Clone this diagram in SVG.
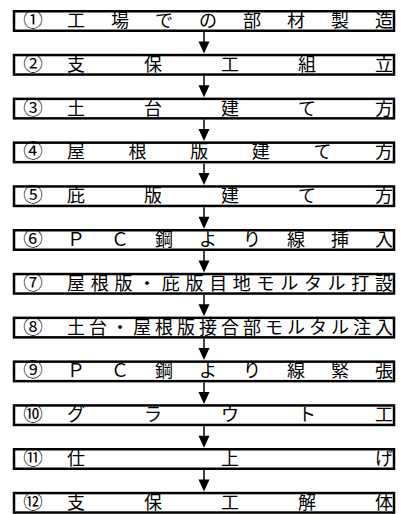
<svg xmlns="http://www.w3.org/2000/svg" width="406" height="514" viewBox="0 0 406 514">
<style>
.box{fill:#fff;stroke:#000;stroke-width:2.5}
.t{font-family:"Noto Sans CJK JP","Noto Sans CJK SC",sans-serif;font-size:18px;fill:#000;text-anchor:middle}
.num{font-size:19.5px}
.ln{stroke:#000;stroke-width:1.5;fill:none}
.ah{fill:#000}
</style>
<rect width="406" height="514" fill="#fff"/>
<g id="connectors">
<line class="ln" x1="204" y1="32" x2="204" y2="43"/><polygon class="ah" points="198.5,41.5 209.5,41.5 204,53.5"/>
<line class="ln" x1="204" y1="75.8" x2="204" y2="86.8"/><polygon class="ah" points="198.5,85.3 209.5,85.3 204,97.3"/>
<line class="ln" x1="204" y1="119.6" x2="204" y2="130.6"/><polygon class="ah" points="198.5,129.1 209.5,129.1 204,141.1"/>
<line class="ln" x1="204" y1="163.4" x2="204" y2="174.4"/><polygon class="ah" points="198.5,172.9 209.5,172.9 204,184.9"/>
<line class="ln" x1="204" y1="207.2" x2="204" y2="218.2"/><polygon class="ah" points="198.5,216.7 209.5,216.7 204,228.7"/>
<line class="ln" x1="204" y1="251" x2="204" y2="262"/><polygon class="ah" points="198.5,260.5 209.5,260.5 204,272.5"/>
<line class="ln" x1="204" y1="294.8" x2="204" y2="305.8"/><polygon class="ah" points="198.5,304.3 209.5,304.3 204,316.3"/>
<line class="ln" x1="204" y1="338.6" x2="204" y2="349.6"/><polygon class="ah" points="198.5,348.1 209.5,348.1 204,360.1"/>
<line class="ln" x1="204" y1="382.4" x2="204" y2="393.4"/><polygon class="ah" points="198.5,391.9 209.5,391.9 204,403.9"/>
<line class="ln" x1="204" y1="426.2" x2="204" y2="437.2"/><polygon class="ah" points="198.5,435.7 209.5,435.7 204,447.7"/>
<line class="ln" x1="204" y1="470" x2="204" y2="481"/><polygon class="ah" points="198.5,479.5 209.5,479.5 204,491.5"/>
</g>
<g id="n1"><rect class="box" x="14" y="11.25" width="380" height="19.5"/>
<text class="t" y="27"><tspan class="num" x="33">①</tspan><tspan x="76 120 164 208 252 296 340 384">工場での部材製造</tspan></text></g>
<g id="n2"><rect class="box" x="14" y="55.05" width="380" height="19.5"/>
<text class="t" y="70.8"><tspan class="num" x="33">②</tspan><tspan x="76 153 230 307 384">支保工組立</tspan></text></g>
<g id="n3"><rect class="box" x="14" y="98.85" width="380" height="19.5"/>
<text class="t" y="114.6"><tspan class="num" x="33">③</tspan><tspan x="76 153 230 307 384">土台建て方</tspan></text></g>
<g id="n4"><rect class="box" x="14" y="142.65" width="380" height="19.5"/>
<text class="t" y="158.4"><tspan class="num" x="33">④</tspan><tspan x="76 137.6 199.2 260.8 322.4 384">屋根版建て方</tspan></text></g>
<g id="n5"><rect class="box" x="14" y="186.45" width="380" height="19.5"/>
<text class="t" y="202.2"><tspan class="num" x="33">⑤</tspan><tspan x="76 153 230 307 384">庇版建て方</tspan></text></g>
<g id="n6"><rect class="box" x="14" y="230.25" width="380" height="19.5"/>
<text class="t" y="246"><tspan class="num" x="33">⑥</tspan><tspan x="76 120 164 208 252 296 340 384">ＰＣ鋼より線挿入</tspan></text></g>
<g id="n7"><rect class="box" x="14" y="274.05" width="380" height="19.5"/>
<text class="t" y="289.8"><tspan class="num" x="33">⑦</tspan><tspan x="76 99.69 123.38 147.08 170.77 194.46 218.15 241.85 265.54 289.23 312.92 336.62 360.31 384">屋根版・庇版目地モルタル打設</tspan></text></g>
<g id="n8"><rect class="box" x="14" y="317.85" width="380" height="19.5"/>
<text class="t" y="333.6"><tspan class="num" x="33">⑧</tspan><tspan x="76 98 120 142 164 186 208 230 252 274 296 318 340 362 384">土台・屋根版接合部モルタル注入</tspan></text></g>
<g id="n9"><rect class="box" x="14" y="361.65" width="380" height="19.5"/>
<text class="t" y="377.4"><tspan class="num" x="33">⑨</tspan><tspan x="76 120 164 208 252 296 340 384">ＰＣ鋼より線緊張</tspan></text></g>
<g id="n10"><rect class="box" x="14" y="405.45" width="380" height="19.5"/>
<text class="t" y="421.2"><tspan class="num" x="33">⑩</tspan><tspan x="76 153 230 307 384">グラウト工</tspan></text></g>
<g id="n11"><rect class="box" x="14" y="449.25" width="380" height="19.5"/>
<text class="t" y="465"><tspan class="num" x="33">⑪</tspan><tspan x="76 230 384">仕上げ</tspan></text></g>
<g id="n12"><rect class="box" x="14" y="493.05" width="380" height="19.5"/>
<text class="t" y="508.8"><tspan class="num" x="33">⑫</tspan><tspan x="76 153 230 307 384">支保工解体</tspan></text></g>
</svg>
